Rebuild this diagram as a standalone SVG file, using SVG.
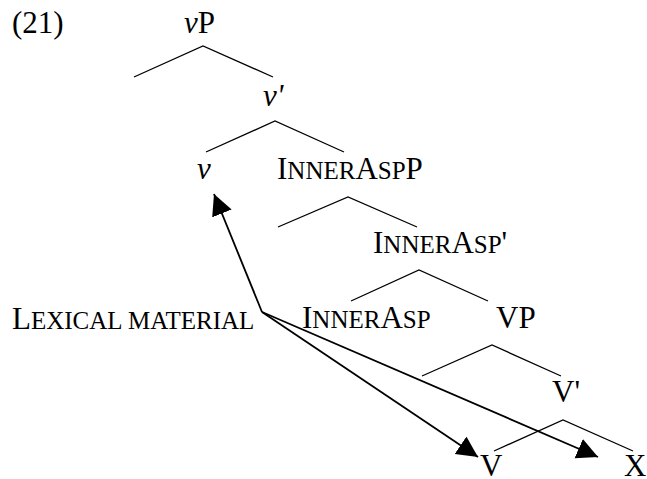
<svg xmlns="http://www.w3.org/2000/svg" width="647" height="479" viewBox="0 0 647 479">
  <style>
    text { font-family: "Liberation Serif", "Times New Roman", serif; font-size: 31px; fill: #000; }
    .sc { font-size: 25px; }
    .it { font-style: italic; }
    .branch { fill: none; stroke: #000; stroke-width: 1.3; }
    .move { fill: none; stroke: #000; stroke-width: 1.8; marker-end: url(#head); }
  </style>
  <defs>
    <marker id="head" markerUnits="userSpaceOnUse" markerWidth="22" markerHeight="22" refX="21" refY="10.5" orient="auto">
      <path d="M0,0 L21,10.5 L0,21 z" fill="#000"/>
    </marker>
  </defs>
  <rect width="647" height="479" fill="#fff"/>

  <text id="label-21" x="12" y="33">(21)</text>

  <g id="node-vP"><text x="184" y="33"><tspan class="it">v</tspan>P</text></g>
  <g id="node-v-bar"><text x="263" y="106" class="it">v'</text></g>
  <g id="node-v"><text x="197" y="179" class="it">v</text></g>
  <g id="node-InnerAspP"><text x="277" y="179">I<tspan class="sc">NNER</tspan>A<tspan class="sc">SP</tspan>P</text></g>
  <g id="node-InnerAsp-bar"><text x="373" y="253">I<tspan class="sc">NNER</tspan>A<tspan class="sc">SP</tspan>'</text></g>
  <g id="node-lexical"><text x="12" y="329">L<tspan class="sc">EXICAL MATERIAL</tspan></text></g>
  <g id="node-InnerAsp"><text x="302" y="328">I<tspan class="sc">NNER</tspan>A<tspan class="sc">SP</tspan></text></g>
  <g id="node-VP"><text x="496" y="328">VP</text></g>
  <g id="node-V-bar"><text x="552" y="402">V'</text></g>
  <g id="node-V"><text x="480" y="476">V</text></g>
  <g id="node-X"><text x="624" y="476">X</text></g>

  <g id="connectors">
    <polyline class="branch" points="134,77 203,46 273,77"/>
    <polyline class="branch" points="206,152 275,121 344,152"/>
    <polyline class="branch" points="278,227 348,197 417,227"/>
    <polyline class="branch" points="351,301 419,270 488,301"/>
    <polyline class="branch" points="422,376 492,345 561,376"/>
    <polyline class="branch" points="494,451 563,420 633,451"/>
    <line class="move" x1="262" y1="312" x2="214" y2="194"/>
    <line class="move" x1="262" y1="312" x2="478" y2="457"/>
    <line class="move" x1="262" y1="312" x2="598" y2="457"/>
  </g>
</svg>
